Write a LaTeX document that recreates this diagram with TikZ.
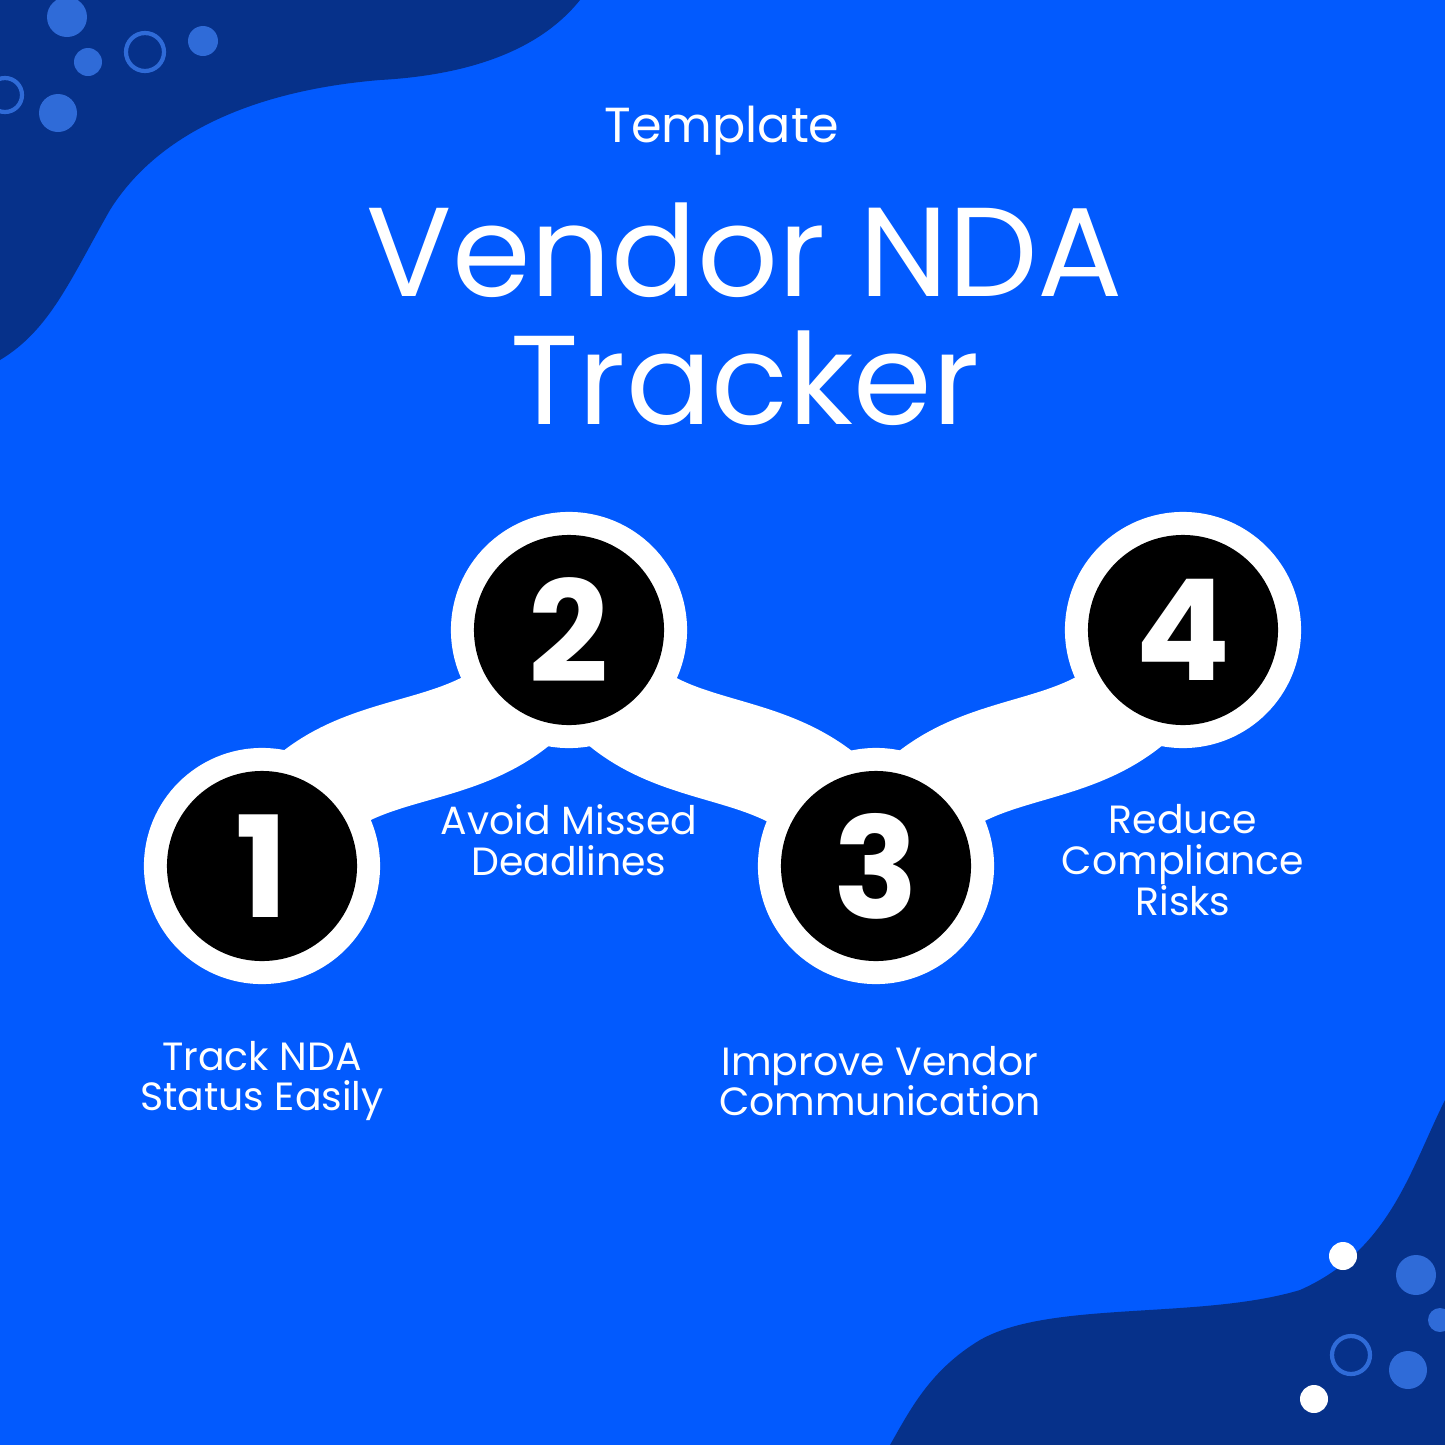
\documentclass[tikz,border=0pt]{standalone}
\usepackage{fontspec}
\setmainfont{Poppins}
\definecolor{bgblue}{HTML}{025AFE}
\definecolor{deepblue}{HTML}{06318A}
\definecolor{dotblue}{HTML}{2F6BD8}
\begin{document}
\begin{tikzpicture}[
  x=0.01cm, y=-0.01cm,
  % Styles
  outer/.style={% white ring round a step
      circle, fill=white, minimum size=2.36cm, inner sep=0pt
      },
  step/.style={},
  stepdot/.style={% black disc with the number
      circle, fill=black, text=white, minimum size=1.9cm, inner sep=0pt,
      font=\fontsize{40}{40}\selectfont\bfseries
      },
  band/.style={% white link between steps
      white, line width=1.05cm
      },
  caption/.style={% text under or over a step
      text=white, align=center, font=\fontsize{11.2}{11.6}\selectfont
      },
  dot/.style={fill=dotblue},
  ring/.style={draw=dotblue, line width=1.2pt},
  ]

  % background
  \fill[bgblue] (0,0) rectangle (1445,1445);
  \useasboundingbox (0,0) rectangle (1445,1445);
  \fill[deepblue] (0,0) -- (580,0) .. controls (540,50) and (470,75) .. (380,80)
    .. controls (260,90) and (160,130) .. (110,210)
    .. controls (70,280) and (50,330) .. (0,360) -- cycle;
  \fill[deepblue] (1445,1100) .. controls (1410,1170) and (1390,1250) .. (1300,1290)
    .. controls (1200,1320) and (1050,1300) .. (980,1340)
    .. controls (930,1370) and (910,1410) .. (890,1445) -- (1445,1445) -- cycle;

  % decorations
  \fill[dot] (67,17) circle (20);
  \fill[dot] (88,62) circle (14);
  \fill[dot] (58,113) circle (19);
  \fill[dot] (203,41) circle (15);
  \draw[ring] (145,52) circle (19);
  \draw[ring] (5,95) circle (17);
  \fill[white] (1343,1256) circle (14);
  \fill[white] (1314,1399) circle (14);
  \fill[dot] (1416,1275) circle (20);
  \fill[dot] (1408,1370) circle (19);
  \fill[dot] (1440,1320) circle (12);
  \draw[ring] (1351,1355) circle (19);

  % titles
  \node[text=white, font=\fontsize{14}{14}\selectfont] (sub) at (722,131) {Template};
  \node[text=white, font=\fontsize{36}{36}\selectfont] (title1) at (745,250) {Vendor NDA};
  \node[text=white, font=\fontsize{36}{36}\selectfont] (title2) at (745,378) {Tracker};

  % chain
  \coordinate (c1) at (262,866);
  \coordinate (c2) at (569,630);
  \coordinate (c3) at (876,866);
  \coordinate (c4) at (1183,630);
  \draw[band] (c1) .. controls (330,700) and (500,800) .. (c2);
  \draw[band] (c2) .. controls (640,800) and (800,700) .. (c3);
  \draw[band] (c3) .. controls (950,700) and (1110,800) .. (c4);
  \foreach \i in {1,...,4}
    \node[outer] (ring\i) at (c\i) {};
  \foreach \i in {1,...,4}
    \node[stepdot] (num\i) at (c\i) {\i};

  % captions
  \node[caption] (cap1) at (262,1081) {Track NDA\\Status Easily};
  \node[caption] (cap2) at (569,840) {Avoid Missed\\Deadlines};
  \node[caption] (cap3) at (880,1081) {Improve Vendor\\Communication};
  \node[caption] (cap4) at (1183,860) {Reduce\\Compliance\\Risks};

\end{tikzpicture}
\end{document}
